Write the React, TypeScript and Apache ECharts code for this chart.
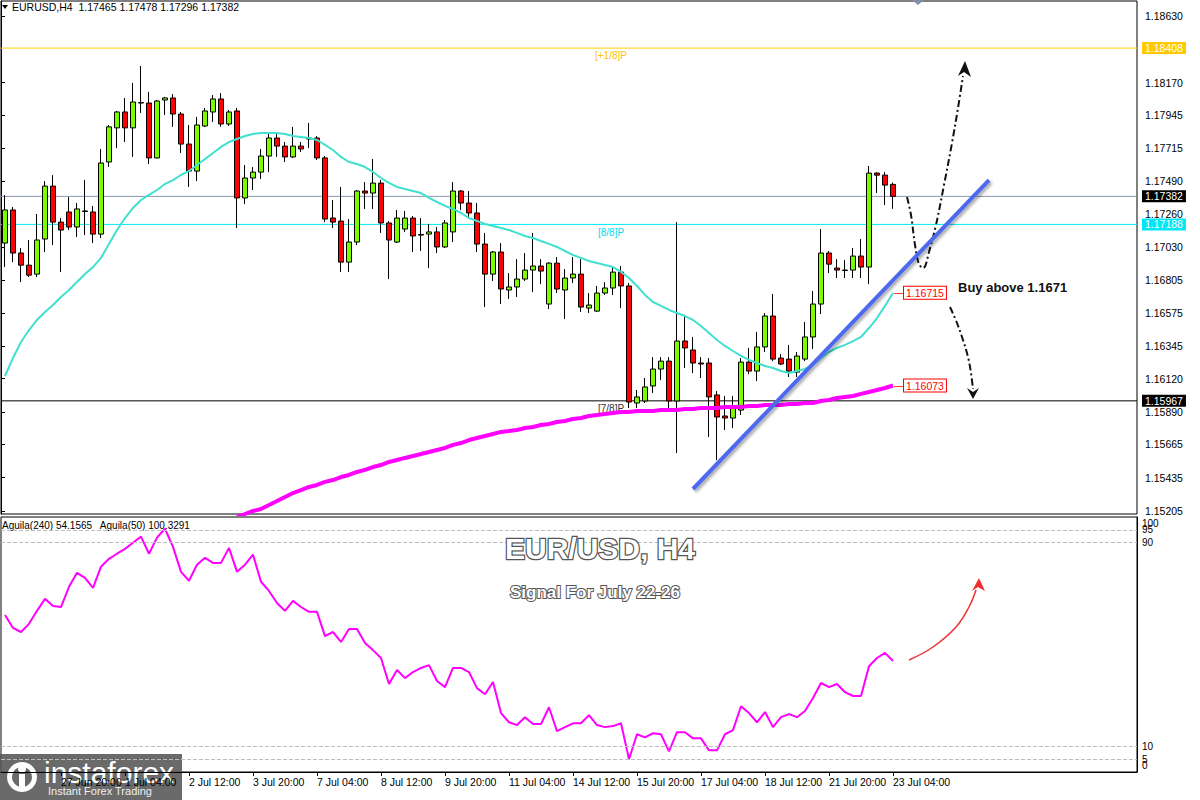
import React, { useEffect, useRef } from 'react';
import * as echarts from 'echarts';

// [open, high, low, close] for each H4 bar
const CANDLES: number[][] = [
  [1.17059, 1.17391, 1.16893, 1.17288], [1.17288, 1.17309, 1.16927, 1.16990], [1.16990, 1.17025, 1.16789, 1.16906],
  [1.16906, 1.17080, 1.16824, 1.16837], [1.16844, 1.17260, 1.16824, 1.17080], [1.17087, 1.17488, 1.16997, 1.17453],
  [1.17453, 1.17529, 1.17045, 1.17204], [1.17204, 1.17232, 1.16858, 1.17149], [1.17274, 1.17378, 1.17149, 1.17170],
  [1.17170, 1.17336, 1.17101, 1.17295], [1.17281, 1.17495, 1.17114, 1.17278], [1.17274, 1.17315, 1.17059, 1.17121],
  [1.17121, 1.17710, 1.17094, 1.17613], [1.17620, 1.17876, 1.17586, 1.17863], [1.17856, 1.17973, 1.17717, 1.17966],
  [1.17966, 1.18063, 1.17758, 1.17856], [1.17856, 1.18167, 1.17655, 1.18035], [1.18028, 1.18284, 1.17959, 1.18031],
  [1.18028, 1.18104, 1.17606, 1.17648], [1.17648, 1.18049, 1.17645, 1.18042], [1.18049, 1.18070, 1.17945, 1.18063],
  [1.18063, 1.18090, 1.17863, 1.17952], [1.17952, 1.17966, 1.17682, 1.17744], [1.17744, 1.17876, 1.17447, 1.17557],
  [1.17557, 1.17932, 1.17488, 1.17876], [1.17869, 1.17994, 1.17862, 1.17973], [1.17966, 1.18083, 1.17897, 1.18056],
  [1.18056, 1.18097, 1.17863, 1.17883], [1.17883, 1.17980, 1.17869, 1.17966], [1.17973, 1.17994, 1.17163, 1.17371],
  [1.17371, 1.17599, 1.17329, 1.17509], [1.17509, 1.17585, 1.17426, 1.17550], [1.17550, 1.17710, 1.17502, 1.17661],
  [1.17661, 1.17827, 1.17550, 1.17786], [1.17786, 1.17827, 1.17655, 1.17730], [1.17730, 1.17758, 1.17620, 1.17655],
  [1.17655, 1.17863, 1.17648, 1.17730], [1.17730, 1.17758, 1.17689, 1.17710], [1.17786, 1.17890, 1.17717, 1.17779],
  [1.17786, 1.17799, 1.17634, 1.17648], [1.17648, 1.17661, 1.17204, 1.17225], [1.17232, 1.17357, 1.17163, 1.17204],
  [1.17211, 1.17447, 1.16858, 1.16927], [1.16927, 1.17225, 1.16858, 1.17066], [1.17066, 1.17426, 1.17045, 1.17419],
  [1.17419, 1.17481, 1.17295, 1.17405], [1.17405, 1.17641, 1.17295, 1.17474], [1.17474, 1.17495, 1.17129, 1.17198],
  [1.17198, 1.17211, 1.16810, 1.17080], [1.17066, 1.17288, 1.17059, 1.17232], [1.17156, 1.17281, 1.17136, 1.17232],
  [1.17232, 1.17246, 1.16997, 1.17108], [1.17118, 1.17232, 1.17004, 1.17114], [1.17121, 1.17191, 1.16886, 1.17136],
  [1.17136, 1.17170, 1.16990, 1.17032], [1.17032, 1.17218, 1.17025, 1.17198], [1.17136, 1.17481, 1.17066, 1.17419],
  [1.17419, 1.17426, 1.17288, 1.17336], [1.17336, 1.17419, 1.17239, 1.17267], [1.17267, 1.17336, 1.16997, 1.17052],
  [1.17052, 1.17129, 1.16616, 1.16844], [1.16844, 1.17004, 1.16796, 1.16997], [1.16997, 1.17059, 1.16637, 1.16741],
  [1.16734, 1.16851, 1.16672, 1.16755], [1.16755, 1.16948, 1.16686, 1.16810], [1.16810, 1.16990, 1.16796, 1.16872],
  [1.16872, 1.17129, 1.16720, 1.16900], [1.16900, 1.16948, 1.16775, 1.16865], [1.16637, 1.16927, 1.16602, 1.16920],
  [1.16920, 1.16962, 1.16713, 1.16741], [1.16734, 1.16879, 1.16533, 1.16817], [1.16817, 1.16962, 1.16782, 1.16844],
  [1.16844, 1.16948, 1.16582, 1.16616], [1.16609, 1.16713, 1.16575, 1.16630], [1.16588, 1.16762, 1.16582, 1.16713],
  [1.16713, 1.16789, 1.16699, 1.16748], [1.16748, 1.16900, 1.16699, 1.16858], [1.16858, 1.16900, 1.16609, 1.16762],
  [1.16762, 1.16782, 1.15917, 1.15959], [1.15952, 1.16042, 1.15917, 1.15994], [1.15966, 1.16125, 1.15952, 1.16063],
  [1.16070, 1.16270, 1.16021, 1.16187], [1.16187, 1.16270, 1.16111, 1.16242], [1.16242, 1.16270, 1.15917, 1.15966],
  [1.15966, 1.17204, 1.15606, 1.16381], [1.16381, 1.16561, 1.16194, 1.16333], [1.16319, 1.16409, 1.16159, 1.16229],
  [1.16229, 1.16270, 1.16125, 1.16222], [1.16229, 1.16263, 1.15717, 1.15994], [1.16008, 1.16035, 1.15557, 1.15855],
  [1.15862, 1.16000, 1.15765, 1.15848], [1.15848, 1.16000, 1.15779, 1.15931], [1.15903, 1.16263, 1.15869, 1.16235],
  [1.16235, 1.16333, 1.16152, 1.16173], [1.16173, 1.16443, 1.16104, 1.16340], [1.16340, 1.16575, 1.16305, 1.16554],
  [1.16554, 1.16706, 1.16242, 1.16256], [1.16263, 1.16291, 1.16215, 1.16222], [1.16256, 1.16354, 1.16132, 1.16173],
  [1.16166, 1.16305, 1.16132, 1.16277], [1.16256, 1.16513, 1.16242, 1.16409], [1.16409, 1.16727, 1.16326, 1.16637],
  [1.16637, 1.17156, 1.16568, 1.16990], [1.16990, 1.17004, 1.16851, 1.16913], [1.16886, 1.16948, 1.16817, 1.16872],
  [1.16872, 1.16941, 1.16817, 1.16869], [1.16872, 1.17025, 1.16817, 1.16969], [1.16969, 1.17087, 1.16817, 1.16893],
  [1.16893, 1.17592, 1.16775, 1.17543], [1.17543, 1.17550, 1.17405, 1.17529], [1.17529, 1.17550, 1.17322, 1.17460],
  [1.17465, 1.17478, 1.17296, 1.17382],
];

const MA_FAST = [
  1.16139, 1.16264, 1.16374, 1.16457, 1.16527, 1.16582, 1.16630, 1.16686, 1.16734, 1.16790,
  1.16845, 1.16893, 1.16956, 1.17053, 1.17149, 1.17232, 1.17302, 1.17357, 1.17392, 1.17426,
  1.17468, 1.17495, 1.17530, 1.17558, 1.17599, 1.17641, 1.17682, 1.17724, 1.17758, 1.17779,
  1.17800, 1.17814, 1.17821, 1.17821, 1.17821, 1.17814, 1.17800, 1.17793, 1.17786, 1.17772,
  1.17738, 1.17703, 1.17655, 1.17620, 1.17606, 1.17585, 1.17551, 1.17509, 1.17475, 1.17447,
  1.17433, 1.17419, 1.17405, 1.17371, 1.17343, 1.17316, 1.17295, 1.17267, 1.17232, 1.17212,
  1.17191, 1.17177, 1.17163, 1.17149, 1.17129, 1.17108, 1.17094, 1.17073, 1.17053, 1.17032,
  1.17004, 1.16976, 1.16956, 1.16935, 1.16921, 1.16907, 1.16893, 1.16859, 1.16817, 1.16762,
  1.16700, 1.16651, 1.16624, 1.16596, 1.16575, 1.16554, 1.16527, 1.16485, 1.16437, 1.16388,
  1.16347, 1.16312, 1.16278, 1.16250, 1.16229, 1.16208, 1.16194, 1.16174, 1.16160, 1.16174,
  1.16188, 1.16215, 1.16264, 1.16305, 1.16333, 1.16354, 1.16381, 1.16409, 1.16471, 1.16540,
  1.16624, 1.16715,
];

const MA_SLOW_START = 29;
const MA_SLOW = [
  1.15163, 1.15184, 1.15205, 1.15219, 1.15246, 1.15274, 1.15302, 1.15329, 1.15350, 1.15371,
  1.15385, 1.15406, 1.15419, 1.15440, 1.15454, 1.15475, 1.15489, 1.15509, 1.15523, 1.15544,
  1.15558, 1.15572, 1.15585, 1.15599, 1.15613, 1.15627, 1.15641, 1.15662, 1.15675, 1.15696,
  1.15710, 1.15724, 1.15738, 1.15752, 1.15758, 1.15765, 1.15779, 1.15786, 1.15800, 1.15807,
  1.15821, 1.15828, 1.15842, 1.15848, 1.15862, 1.15869, 1.15876, 1.15883, 1.15890, 1.15890,
  1.15897, 1.15897, 1.15897, 1.15904, 1.15904, 1.15904, 1.15911, 1.15911, 1.15918, 1.15918,
  1.15918, 1.15925, 1.15925, 1.15925, 1.15931, 1.15931, 1.15938, 1.15938, 1.15938, 1.15945,
  1.15945, 1.15952, 1.15952, 1.15966, 1.15973, 1.15987, 1.15994, 1.16001, 1.16015, 1.16028,
  1.16042, 1.16056, 1.16073,
];

const AGUILA = [
  61.6, 56.5, 54.9, 58.1, 63.2, 67.9, 65.1, 64.7, 72.6, 78.1,
  76.1, 72.2, 80.5, 83.6, 85.6, 87.5, 89.9, 92.3, 85.6, 91.9,
  95.4, 88.3, 78.5, 75.0, 81.3, 84.0, 82.0, 82.0, 87.9, 78.5,
  81.3, 85.2, 74.6, 71.0, 66.3, 63.2, 67.1, 64.7, 62.8, 62.8,
  53.3, 54.9, 51.0, 56.1, 56.1, 50.6, 47.8, 44.7, 34.5, 40.0,
  36.8, 39.2, 40.8, 41.9, 35.7, 33.3, 40.8, 40.8, 39.2, 32.9,
  30.5, 35.3, 23.1, 19.5, 18.4, 21.5, 18.8, 18.8, 25.4, 16.0,
  17.6, 19.1, 19.1, 22.3, 18.4, 17.6, 18.0, 19.1, 5.0, 14.8,
  13.6, 15.2, 14.8, 8.1, 15.6, 15.6, 13.2, 13.2, 8.5, 8.5,
  14.8, 16.4, 25.8, 23.1, 19.5, 23.5, 17.6, 21.5, 22.7, 21.5,
  23.9, 29.0, 34.9, 33.3, 34.5, 31.3, 29.8, 29.8, 41.5, 44.7,
  46.7, 43.5,
];

const PRICE_TICKS = [1.15205, 1.15435, 1.15665, 1.1589, 1.1612, 1.16345, 1.16575, 1.16805, 1.1703, 1.1726, 1.1749, 1.17715, 1.17945, 1.1817, 1.1863];
const AGUILA_TICKS = [5, 10, 90, 95];
const AGUILA_EDGE_LABELS = [{ text: '100', y: 523 }, { text: '0', y: 765 }];
const AGUILA_LEVELS = [95, 90, 10, 5];
const X_TICKS: Record<number, string> = {
  7: '27 Jun 20:00', 15: '1 Jul 04:00', 23: '2 Jul 12:00', 31: '3 Jul 20:00', 39: '7 Jul 04:00',
  47: '8 Jul 12:00', 55: '9 Jul 20:00', 63: '11 Jul 04:00', 71: '14 Jul 12:00', 79: '15 Jul 20:00',
  87: '17 Jul 04:00', 95: '18 Jul 12:00', 103: '21 Jul 20:00', 111: '23 Jul 04:00',
};
const TOTAL_SLOTS = 142;
const LEVELS = [
  { value: 1.18408, line: '#FFD000', bg: '#FFC800', text: '#ffffff' },
  { value: 1.17382, line: '#8A96AD', bg: '#000000', text: '#ffffff' },
  { value: 1.17188, line: '#00E8F8', bg: '#00E8F8', text: '#ffffff' },
  { value: 1.15967, line: '#000000', bg: '#000000', text: '#ffffff' },
];
const TREND: [number, number][] = [[86, 1.15357], [123, 1.17495]];
const FONT = 'Liberation Sans, Arial, sans-serif';

export default function App() {
  const ref = useRef<HTMLDivElement>(null);
  useEffect(() => {
    if (!ref.current) return;
    const chart = echarts.init(ref.current, undefined, { renderer: 'svg' });
    const cats = Array.from({ length: TOTAL_SLOTS }, (_, i) => String(i));
    const slow = [...Array(MA_SLOW_START).fill(null), ...MA_SLOW];
    const tickShown = (i: number) => X_TICKS[i] !== undefined;

    const endLabel = (color: string) => ({
      show: true,
      distance: 1,
      formatter: (p: any) => `{d|—}{b|${Number(p.value).toFixed(5)}}`,
      rich: {
        d: { color, fontSize: 10, fontFamily: FONT },
        b: { color, fontSize: 10.5, fontFamily: FONT, borderColor: color, borderWidth: 1, backgroundColor: '#fff', padding: [1, 2, 0, 2] },
      },
    });

    const levelSeries = LEVELS.map((lv) => ({
      type: 'line', xAxisIndex: 2, yAxisIndex: 0, silent: true, symbol: 'none', z: 1,
      data: [[0, lv.value], [1, lv.value]],
      lineStyle: { color: lv.line, width: 1 },
      endLabel: {
        show: true, distance: 5, formatter: lv.value.toFixed(5),
        backgroundColor: lv.bg, color: lv.text, fontSize: 10.5, padding: [1, 3, 0, 3], fontFamily: FONT,
      },
    }));

    const option: any = {
      animation: false,
      backgroundColor: '#ffffff',
      textStyle: { fontFamily: FONT },
      grid: [
        { left: 1, top: 1, width: 1136, height: 513, show: true, borderColor: '#000', borderWidth: 1 },
        { left: 1, top: 517, width: 1136, height: 255, show: true, borderColor: '#000', borderWidth: 1 },
      ],
      xAxis: [
        {
          type: 'category', gridIndex: 0, data: cats, boundaryGap: true,
          axisLine: { show: false }, axisTick: { show: false }, axisLabel: { show: false }, splitLine: { show: false },
        },
        {
          type: 'category', gridIndex: 1, data: cats, boundaryGap: true,
          axisLine: { show: true, lineStyle: { color: '#000' } },
          axisTick: { show: true, alignWithLabel: true, interval: (i: number) => tickShown(i), length: 4, lineStyle: { color: '#000' } },
          axisLabel: {
            interval: (i: number) => tickShown(i),
            formatter: (_v: string, i: number) => X_TICKS[i] ?? '',
            align: 'left', color: '#000', fontSize: 10.5, margin: 4, fontFamily: FONT,
          },
          splitLine: { show: false },
        },
        { type: 'value', gridIndex: 0, min: 0, max: 1, show: false },
      ],
      yAxis: [
        {
          type: 'value', gridIndex: 0, position: 'right', min: 1.15184, max: 1.18734,
          splitLine: { show: false },
          axisLine: { show: true, lineStyle: { color: '#000' } },
          axisTick: { show: true, customValues: PRICE_TICKS, length: 4, lineStyle: { color: '#000' } },
          axisLabel: { customValues: PRICE_TICKS, formatter: (v: number) => v.toFixed(5), color: '#000', fontSize: 10.5, margin: 8, fontFamily: FONT },
        },
        {
          type: 'value', gridIndex: 1, position: 'right', min: 0, max: 100,
          splitLine: { show: false },
          axisLine: { show: true, lineStyle: { color: '#000' } },
          axisTick: { show: false },
          axisLabel: { customValues: AGUILA_TICKS, color: '#000', fontSize: 10, margin: 5, fontFamily: FONT, hideOverlap: false },
        },
      ],
      series: [
        ...levelSeries,
        {
          type: 'candlestick', xAxisIndex: 0, yAxisIndex: 0, barWidth: 5, z: 2,
          data: CANDLES.map(([o, h, l, c]) => [o, c, l, h]),
          itemStyle: { color: '#7CFC00', color0: '#FF0000', borderColor: '#000', borderColor0: '#000', borderColorDoji: '#000', borderWidth: 1 },
        },
        {
          type: 'line', xAxisIndex: 0, yAxisIndex: 0, data: MA_FAST, symbol: 'none', z: 3,
          lineStyle: { color: '#40E0D0', width: 2 }, endLabel: endLabel('#FF0000'),
          markLine: {
            silent: true, symbol: ['none', 'none'], animation: false,
            data: [
              [
                { coord: TREND[0], lineStyle: { color: '#4D6BEE', width: 4, type: 'solid', shadowColor: 'rgba(0,0,0,0.35)', shadowBlur: 3, shadowOffsetX: 2, shadowOffsetY: 2 }, label: { show: false } },
                { coord: TREND[1] },
              ],
            ],
          },
        },
        {
          type: 'line', xAxisIndex: 0, yAxisIndex: 0, data: slow, symbol: 'none', z: 3,
          lineStyle: { color: '#FF00FF', width: 4 }, endLabel: endLabel('#FF0000'),
        },
        {
          type: 'line', xAxisIndex: 1, yAxisIndex: 1, data: AGUILA, symbol: 'none',
          lineStyle: { color: '#FF00FF', width: 2 },
          markLine: {
            silent: true, symbol: ['none', 'none'], label: { show: false },
            lineStyle: { color: '#bdbdbd', type: 'dashed', width: 1 },
            data: AGUILA_LEVELS.map((v) => ({ yAxis: v })),
          },
        },
      ],
      graphic: [
        { type: 'polygon', shape: { points: [[2, 5], [8, 5], [5, 9]] }, style: { fill: '#000' } },
        { type: 'text', x: 12, y: 7, style: { text: 'EURUSD,H4  1.17465 1.17478 1.17296 1.17382', fill: '#000', font: `10.5px ${FONT}`, verticalAlign: 'middle' } },
        { type: 'polygon', shape: { points: [[912, 0], [924, 0], [918, 5]] }, style: { fill: '#7F8FA6' } },
        ...AGUILA_EDGE_LABELS.map((l) => ({ type: 'text', x: 1142, y: l.y, style: { text: l.text, fill: '#000', font: `10px ${FONT}`, verticalAlign: 'middle' } })),
        { type: 'text', x: 595, y: 55, style: { text: '[+1/8]P', fill: '#FFC000', font: `10px ${FONT}`, verticalAlign: 'middle' } },
        { type: 'text', x: 598, y: 232, style: { text: '[8/8]P', fill: '#00DDF0', font: `10px ${FONT}`, verticalAlign: 'middle' } },
        { type: 'text', x: 598, y: 408, style: { text: '[7/8]P', fill: '#333', font: `10px ${FONT}`, verticalAlign: 'middle' } },
        { type: 'text', x: 958, y: 287, style: { text: 'Buy above 1.1671', fill: '#111', font: `bold 13px ${FONT}`, verticalAlign: 'middle' } },
        // dash-dot scenario arrows
        {
          type: 'polyline', shape: { smooth: 0.35, points: [[907, 197], [911, 215], [915, 245], [919, 264], [924, 268], [929, 252], [936, 225], [944, 185], [952, 143], [958, 108], [963, 76]] },
          style: { stroke: '#111', lineWidth: 2, lineDash: [7, 3, 2, 3], fill: null },
        },
        { type: 'polygon', shape: { points: [[965, 61], [958, 76], [964, 72], [971, 77]] }, style: { fill: '#111' } },
        {
          type: 'polyline', shape: { smooth: 0.35, points: [[950, 307], [957, 323], [963, 340], [968, 357], [971, 373], [973, 389]] },
          style: { stroke: '#111', lineWidth: 2, lineDash: [7, 3, 2, 3], fill: null },
        },
        { type: 'polygon', shape: { points: [[973, 399], [967, 388], [973, 392], [979, 388]] }, style: { fill: '#111' } },
        // indicator header
        { type: 'text', x: 2, y: 525, style: { text: 'Aguila(240) 54.1565   Aguila(50) 100.3291', fill: '#000', font: `10px ${FONT}`, verticalAlign: 'middle' } },
        // titles
        {
          type: 'text', x: 600, y: 548, z: 50,
          style: { text: 'EUR/USD, H4', fill: '#ffffff', stroke: '#555555', lineWidth: 2.5, font: `bold 30px ${FONT}`, align: 'center', verticalAlign: 'middle', shadowColor: 'rgba(0,0,0,0.5)', shadowBlur: 3, shadowOffsetX: 2, shadowOffsetY: 2 },
        },
        {
          type: 'text', x: 595, y: 592, z: 50,
          style: { text: 'Signal For July 22-26', fill: '#ffffff', stroke: '#555555', lineWidth: 2, font: `bold 17px ${FONT}`, align: 'center', verticalAlign: 'middle', shadowColor: 'rgba(0,0,0,0.5)', shadowBlur: 2, shadowOffsetX: 1, shadowOffsetY: 1 },
        },
        // red arrow in the indicator pane
        {
          type: 'polyline', shape: { smooth: 0.4, points: [[909, 660], [933, 647], [956, 627], [969, 607], [976, 590]] },
          style: { stroke: '#F03030', lineWidth: 1.5, fill: null },
        },
        { type: 'polygon', shape: { points: [[979, 578], [972, 591], [978, 587], [985, 591]] }, style: { fill: '#F03030' } },
        // logo
        {
          type: 'group', z: 100,
          children: [
            { type: 'rect', shape: { x: 0, y: 754, width: 182, height: 46 }, style: { fill: 'rgba(85,85,85,0.88)' } },
            { type: 'ring', shape: { cx: 22, cy: 777, r: 15, r0: 10 }, style: { fill: '#ffffff' } },
            { type: 'circle', shape: { cx: 22, cy: 769, r: 4 }, style: { fill: '#ffffff' } },
            { type: 'rect', shape: { x: 19, y: 774, width: 6, height: 16 }, style: { fill: '#ffffff' } },
            { type: 'text', x: 44, y: 772, style: { text: 'instaforex', fill: '#ffffff', font: `30px ${FONT}`, verticalAlign: 'middle' } },
            { type: 'text', x: 48, y: 791, style: { text: 'Instant Forex Trading', fill: '#f0f0f0', font: `11px ${FONT}`, verticalAlign: 'middle' } },
          ],
        },
      ],
    };
    chart.setOption(option);
    return () => chart.dispose();
  }, []);
  return <div ref={ref} style={{ position: 'fixed', left: 0, top: 0, width: 1200, height: 800, background: '#fff' }} />;
}
